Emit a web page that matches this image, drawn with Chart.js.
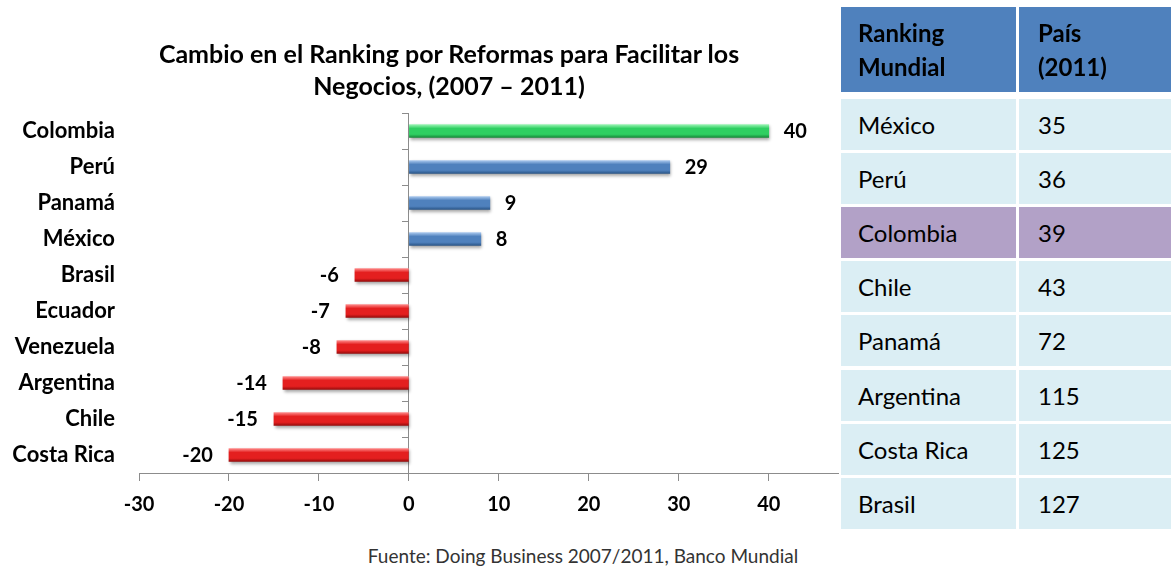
<!DOCTYPE html>
<html>
<head>
<meta charset="utf-8">
<script src="https://cdn.jsdelivr.net/npm/chart.js@4.4.0/dist/chart.umd.min.js"></script>
<style>
body { margin: 0; background: #fff; font-family: Lato, sans-serif; }
#wrap { position: relative; width: 1171px; height: 569px; overflow: hidden; }
#chartBox { position: absolute; left: 0; top: 0; width: 840px; height: 530px; }
#title { position: absolute; left: 0; width: 898px; top: 37px; text-align: center; font-size: 25px; font-weight: bold; line-height: 32px; color: #000; }
#rank { position: absolute; left: 841px; top: 7px; width: 330px; height: 525px; }
.cell { position: absolute; box-sizing: border-box; padding-left: 17px; display: flex; align-items: center; font-size: 24px; color: #000; }
.head { background: #4f81bd; font-weight: bold; line-height: 34px; }
.body { background: #dbeef4; }
.mark { background: #b2a1c7; }
#source { position: absolute; left: 0; width: 1166px; top: 544px; text-align: center; font-size: 19px; color: #333; }
</style>
</head>
<body>
<div id="wrap">
  <div id="chartBox"><canvas id="graph"></canvas></div>
  <div id="title">Cambio en el Ranking por Reformas para Facilitar los<br>Negocios, (2007 – 2011)</div>
  <div id="rank"></div>
  <div id="source">Fuente: Doing Business 2007/2011, Banco Mundial</div>
</div>
<script>
// bar chart data
const countries = ["Colombia", "Perú", "Panamá", "México", "Brasil", "Ecuador", "Venezuela", "Argentina", "Chile", "Costa Rica"];
const changes = [40, 29, 9, 8, -6, -7, -8, -14, -15, -20];
const xTicks = [-30, -20, -10, 0, 10, 20, 30, 40];
const highlight = "Colombia";

// ranking table data
const rankHeader = ["Ranking<br>Mundial", "País<br>(2011)"];
const rankCountries = ["México", "Perú", "Colombia", "Chile", "Panamá", "Argentina", "Costa Rica", "Brasil"];
const rankValues = [35, 36, 39, 43, 72, 115, 125, 127];

/**********/
function buildTable()
{
    let box = document.getElementById("rank");
    let colLeft = [0, 178];
    let colWidth = [175, 152];

    for(let c = 0; c < 2; c++)
    {
        let cell = document.createElement("div");
        cell.className = "cell head";
        cell.style.left = colLeft[c] + "px";
        cell.style.top = "0px";
        cell.style.width = colWidth[c] + "px";
        cell.style.height = "85px";
        if(c === 1) { cell.style.paddingLeft = "19px"; }
        cell.innerHTML = rankHeader[c];
        box.appendChild(cell);
    }

    for(let i = 0; i < rankCountries.length; i++)
    {
        let top = 92 + Math.round(i * 54.1);
        let texts = [rankCountries[i], rankValues[i]];

        for(let c = 0; c < 2; c++)
        {
            let cell = document.createElement("div");
            cell.className = "cell " + (rankCountries[i] === highlight ? "mark" : "body");
            cell.style.left = colLeft[c] + "px";
            cell.style.top = top + "px";
            cell.style.width = colWidth[c] + "px";
            cell.style.height = "51px";
            if(c === 1) { cell.style.paddingLeft = "19px"; }
            cell.textContent = texts[c];
            box.appendChild(cell);
        }
    }
}

/**********/
const green = ["#9af5b4", "#2fcf62", "#178a3a"];
const blue = ["#a9c8ee", "#4f81bd", "#2b5688"];
const red = ["#ff8a8a", "#e41f1f", "#980c0c"];

function barFill(context)
{
    let i = context.dataIndex;
    if(i === undefined) { return blue[1]; }

    let pal = countries[i] === highlight ? green : (changes[i] >= 0 ? blue : red);

    let yScale = context.chart.scales.y;
    if(!yScale) { return pal[1]; }
    let y = yScale.getPixelForValue(i);
    if(!isFinite(y)) { return pal[1]; }

    let g = context.chart.ctx.createLinearGradient(0, y - 6.5, 0, y + 6.5);
    g.addColorStop(0, pal[0]);
    g.addColorStop(0.3, pal[1]);
    g.addColorStop(0.75, pal[1]);
    g.addColorStop(1, pal[2]);
    return g;
}

//soft shadow under the bars
const barShadow = {
    id: "barShadow",
    beforeDatasetDraw(chart) {
        let c = chart.ctx;
        c.save();
        c.shadowColor = "rgba(0,0,0,0.35)";
        c.shadowBlur = 3;
        c.shadowOffsetX = 1;
        c.shadowOffsetY = 2;
    },
    afterDatasetDraw(chart) {
        chart.ctx.restore();
    }
};

//value next to each bar
const valueLabels = {
    id: "valueLabels",
    afterDatasetsDraw(chart) {
        let c = chart.ctx;
        let meta = chart.getDatasetMeta(0);
        c.save();
        c.font = "bold 20px Lato";
        c.fillStyle = "#000";
        c.textBaseline = "middle";
        meta.data.forEach((bar, i) => {
            let v = changes[i];
            c.textAlign = v >= 0 ? "left" : "right";
            c.fillText(String(v), bar.x + (v >= 0 ? 15 : -16), bar.y + 1);
        });
        c.restore();
    }
};

/**********/
function displayGraph()
{
    Chart.defaults.font.family = "Lato";
    Chart.defaults.color = "#000";

    const ctx = document.getElementById("graph");

    window.graph = new Chart(ctx,
    {
        type: "bar",

        data:
        {
            labels: countries,
            datasets: [ { data: changes, backgroundColor: barFill, borderWidth: 0, barThickness: 13 } ]
        },

        plugins: [barShadow, valueLabels],

        options:
        {
            indexAxis: "y",
            responsive: true,
            maintainAspectRatio: false,
            animation: false,
            layout: { padding: { left: 0, right: 2, top: 113, bottom: 0 } },
            plugins:
            {
                legend: { display: false },
                tooltip: { enabled: false },
                title: { display: false }
            },
            scales:
            {
                x:
                {
                    type: "linear",
                    min: -30,
                    max: 47.7,
                    afterBuildTicks: (scale) => { scale.ticks = xTicks.map(v => ({ value: v })); },
                    afterFit: (scale) => { scale.height = 57; },
                    grid: { drawOnChartArea: false, tickLength: 8, color: "#8c8c8c" },
                    border: { color: "#8c8c8c" },
                    ticks: { font: { size: 20, weight: "bold" }, color: "#000", padding: 12, maxRotation: 0 }
                },
                y:
                {
                    type: "category",
                    position: "left",
                    afterFit: (scale) => { scale.width = 139; },
                    grid: { display: false, drawTicks: false },
                    border: { display: false },
                    ticks: { font: { size: 22, weight: "bold" }, color: "#000", padding: 24 }
                },
                y2:
                {
                    type: "category",
                    axis: "y",
                    position: { x: 0 },
                    offset: true,
                    grid: { offset: true, drawOnChartArea: false, tickLength: 6, color: "#8c8c8c" },
                    border: { color: "#8c8c8c" },
                    ticks: { display: false }
                }
            }
        }
    });
}

buildTable();
displayGraph();
</script>
</body>
</html>
